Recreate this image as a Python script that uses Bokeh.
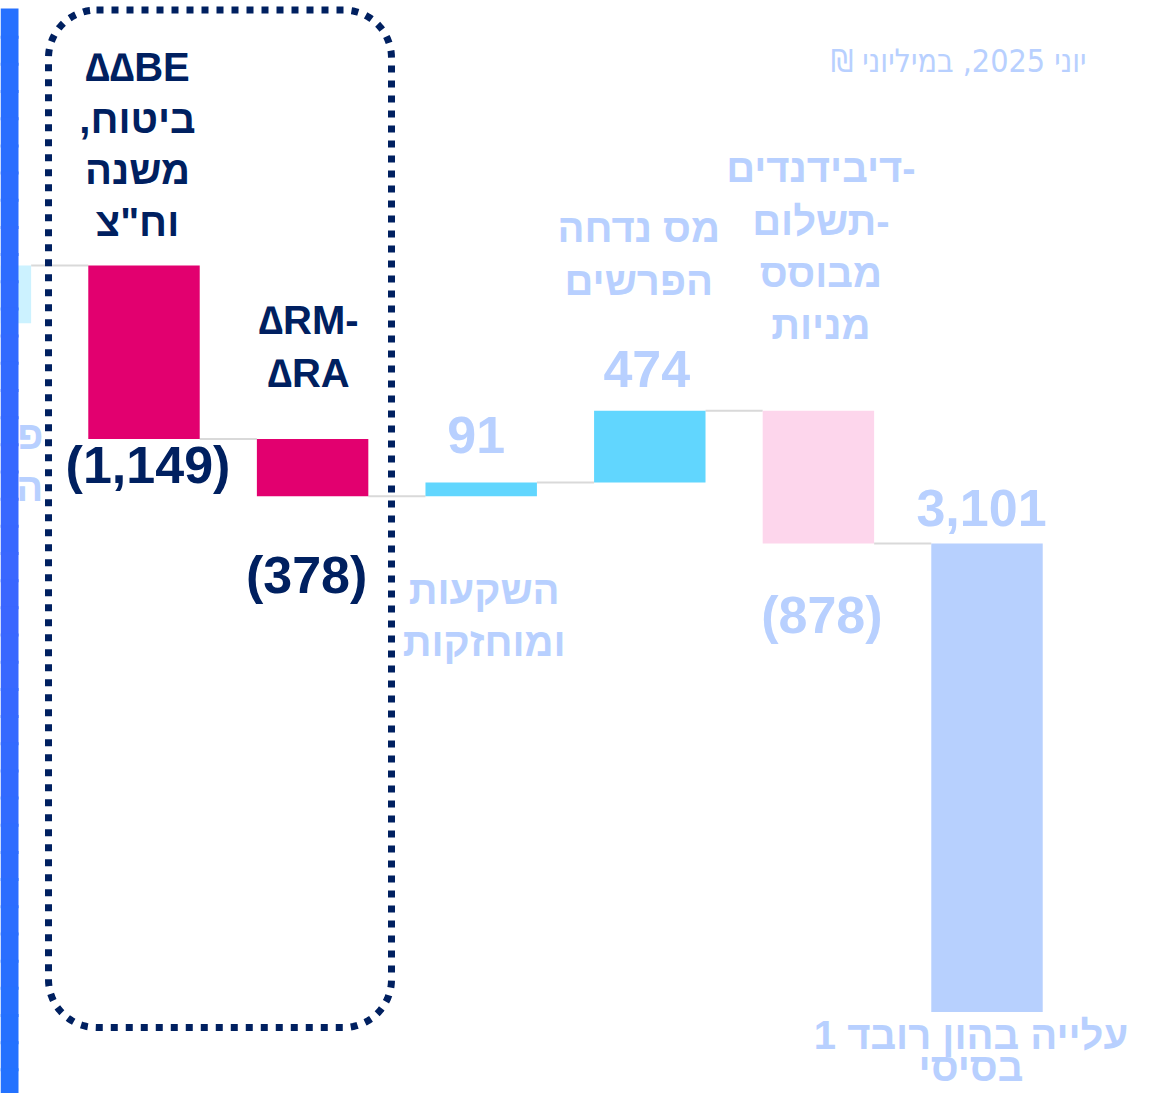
import numpy as np
from bokeh.plotting import figure
from bokeh.models import ColumnDataSource, Range1d
from bokeh.core.properties import value
from bokeh.embed import file_html
from bokeh.resources import INLINE

# ---------------- data ----------------
title_text = "יוני 2025, במיליוני ₪\u200f"
start_level = 4559          # cumulative level before the first (cut-off) step
steps = [382, -1149, -378, 91, 474, -878]   # waterfall steps, left to right
category_lines = [
    ["פ", "ה"],                                   # cut off by the page edge
    ["∆∆BE", "ביטוח,\u200f", "משנה", "וח\"צ"],
    ["∆RM-", "∆RA"],
    ["השקעות", "ומוחזקות"],
    ["מס נדחה", "הפרשים"],
    ["דיבידנדים-", "תשלום-", "מבוסס", "מניות"],
    ["עלייה בהון רובד 1", "בסיסי"],
]

# ---------------- styles / layout ----------------
NAVY = "#002060"
LIGHT = "#b8d0ff"
bar_colors = ["#ccf2ff", "#e2006f", "#e2006f", "#61d6fe", "#61d6fe", "#fdd6ec", "#b7d0fe"]
text_colors = [LIGHT, NAVY, NAVY, LIGHT, LIGHT, LIGHT, LIGHT]
CAT_SIZE, VAL_SIZE, TITLE_SIZE = 40, 52, 32
BASE_CORR = 0.39            # measured shift of the rendered alphabetic baseline (em)
# category label: anchor edge, first-baseline offset (px), line step (px), x offset (px)
cat_place = [("bottom", 127, 52, 68), ("top", -183, 51.7, -6.5), ("top", -104, 53, -4),
             ("bottom", 109, 52, 3), ("top", -167, 53, -11), ("top", -227, 52.3, 2.5),
             ("bottom", 38.5, 32, -16)]
# value label: anchor edge, baseline offset (px), x offset (px)
val_place = [None, ("bottom", 46, 4), ("bottom", 99, -6), ("top", -27, -5), ("top", -22, -3),
             ("bottom", 92, 3.5), ("top", -15, -5.5)]
FONT = "Liberation Sans"
BAR_W = 0.661

W, H = 1137, 1093
KX = 168.6                 # px per category
KY = 0.15108               # px per unit
x_start = 1 - 143.5 / KX
x_end = x_start + W / KX
y_end = 1011.5 / KY
y_start = -(H - 1011.5) / KY


def px2x(px):
    return x_start + px / KX


def py2y(py):
    return y_end - py / KY


# ---------------- waterfall geometry ----------------
levels = start_level + np.cumsum(steps)
total = levels[-1]
prev = np.concatenate([[start_level], levels[:-1]])
n = len(steps) + 1
xs = np.arange(n, dtype=float)
bottoms = list(np.minimum(prev, levels)) + [0]
tops = list(np.maximum(prev, levels)) + [total]
val_labels = [f"({abs(v):,})" if v < 0 else f"{v:,}" for v in steps] + [f"{total:,}"]

p = figure(width=W, height=H, x_range=Range1d(x_start, x_end), y_range=Range1d(y_start, y_end),
           output_backend="svg", toolbar_location=None, min_border=0,
           x_axis_location=None, y_axis_location=None, outline_line_color=None,
           background_fill_color="white", border_fill_color="white")
p.grid.visible = False

# connectors
p.segment(x0=xs[:-1] + BAR_W / 2, x1=xs[1:] - BAR_W / 2, y0=levels, y1=levels,
          line_color="#d9d9d9", line_width=2)

# bars
p.vbar(x=xs, width=BAR_W, bottom=bottoms, top=tops, fill_color=bar_colors, line_color=None)

# dotted rounded box
L, R, T, B, r = 48, 391, 9.5, 1027, 48
pts = []
def arc(cx, cy, a0, a1):
    for a in np.linspace(a0, a1, 24):
        pts.append((cx + r * np.cos(a), cy + r * np.sin(a)))
pts.append((L + r, T))
pts.append((R - r, T))
arc(R - r, T + r, -np.pi / 2, 0)
pts.append((R, B - r))
arc(R - r, B - r, 0, np.pi / 2)
pts.append((L + r, B))
arc(L + r, B - r, np.pi / 2, np.pi)
pts.append((L, T + r))
arc(L + r, T + r, np.pi, 1.5 * np.pi)
bx = [px2x(a) for a, _ in pts]
by = [py2y(b) for _, b in pts]
p.line(bx, by, line_color=NAVY, line_width=7, line_dash="7 8", line_cap="butt")

# category labels
tx, ty, tt, tc, txo, tyo, tal = [], [], [], [], [], [], []
for i, lines in enumerate(category_lines):
    edge, off, step, xo = cat_place[i]
    anchor = tops[i] if edge == "top" else bottoms[i]
    for j, s in enumerate(lines):
        tx.append(xs[i]); ty.append(anchor); tt.append(s); tc.append(text_colors[i])
        txo.append(xo); tyo.append(off + j * step - BASE_CORR * CAT_SIZE)
        tal.append("right" if i == 0 else "center")
cat_src = ColumnDataSource(dict(x=tx, y=ty, text=tt, color=tc, xo=txo, yo=tyo, align=tal))
p.text(x="x", y="y", text="text", source=cat_src, text_color="color", x_offset="xo", y_offset="yo",
       text_align="align", text_baseline="alphabetic", text_font=value(FONT),
       text_font_style="bold", text_font_size=f"{CAT_SIZE}px")

# value labels
vx, vy, vt, vc, vxo, vyo = [], [], [], [], [], []
for i in range(n):
    if val_place[i] is None:
        continue
    edge, off, xo = val_place[i]
    vx.append(xs[i]); vy.append(tops[i] if edge == "top" else bottoms[i])
    vt.append(val_labels[i]); vc.append(text_colors[i])
    vxo.append(xo); vyo.append(off - BASE_CORR * VAL_SIZE)
val_src = ColumnDataSource(dict(x=vx, y=vy, text=vt, color=vc, xo=vxo, yo=vyo))
p.text(x="x", y="y", text="text", source=val_src, text_color="color", x_offset="xo", y_offset="yo",
       text_align="center", text_baseline="alphabetic", text_font=value(FONT),
       text_font_style="bold", text_font_size=f"{VAL_SIZE}px")

# title
p.text(x=[px2x(1086)], y=[py2y(73)], y_offset=-BASE_CORR * TITLE_SIZE, text=[title_text],
       text_color=LIGHT, text_align="right", text_baseline="alphabetic",
       text_font=value("DejaVu Sans Condensed"), text_font_size=f"{TITLE_SIZE}px")

# left gradient stripe (overlapping bands to avoid seams)
nb = 40
edges = np.linspace(8, 1095, nb + 1)
top_c, mid_c, bot_c = np.array([0x25, 0x70, 0xff]), np.array([0x3b, 0x66, 0xff]), np.array([0x22, 0x72, 0xff])
cols = []
for k in range(nb):
    t = (k + 0.5) / nb
    if t < 0.55:
        c = top_c + (mid_c - top_c) * (t / 0.55)
    else:
        c = mid_c + (bot_c - mid_c) * ((t - 0.55) / 0.45)
    cols.append("#%02x%02x%02x" % tuple(int(round(v)) for v in c))
band_bottom = np.minimum(edges[1:] + 3, 1095)
p.quad(left=px2x(0), right=px2x(18), top=[py2y(e) for e in edges[:-1]],
       bottom=[py2y(e) for e in band_bottom], fill_color=cols, line_color=None)

open("out.html", "w").write(file_html(p, INLINE))
